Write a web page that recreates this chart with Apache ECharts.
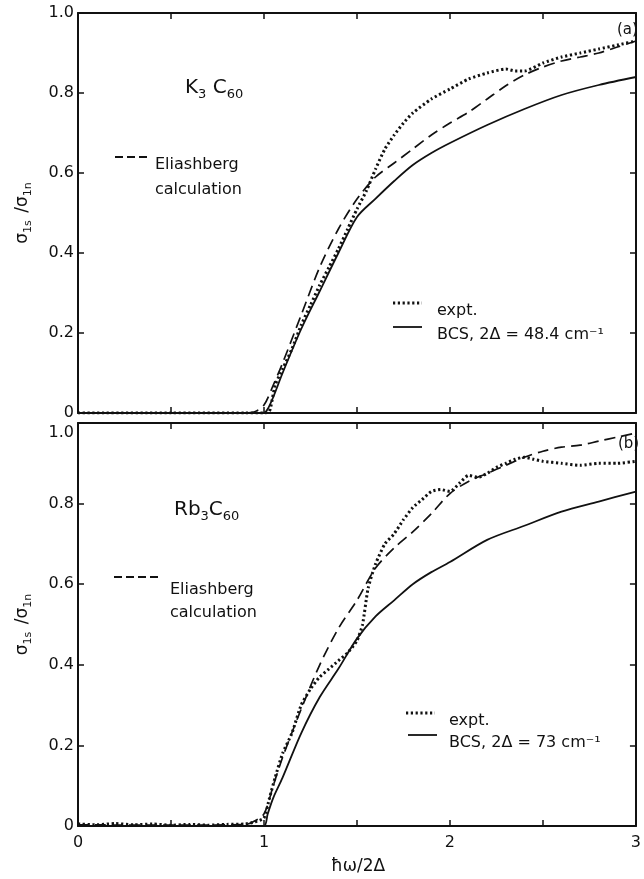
<!DOCTYPE html>
<html>
<head>
<meta charset="utf-8">
<script src="https://cdn.jsdelivr.net/npm/echarts@6/dist/echarts.min.js"></script>
<style>
html,body{margin:0;padding:0;background:#fff;}
#chart{width:644px;height:879px;}
</style>
</head>
<body>
<div id="chart"></div>
<script>
// ---- Panel (a): K3C60 ----
const xK_bcs = [0, 0.5, 0.9, 1.0, 1.02, 1.05, 1.1, 1.2, 1.3, 1.4, 1.5, 1.6, 1.7, 1.8, 1.9, 2.0, 2.2, 2.4, 2.6, 2.8, 3.0];
const yK_bcs = [0, 0, 0, 0, 0.01, 0.04, 0.10, 0.21, 0.305, 0.40, 0.49, 0.536, 0.58, 0.62, 0.65, 0.675, 0.72, 0.76, 0.795, 0.82, 0.84];

const xK_eli = [0, 0.5, 0.9, 0.95, 1.0, 1.05, 1.1, 1.2, 1.3, 1.4, 1.5, 1.6, 1.7, 1.8, 1.9, 2.0, 2.1, 2.2, 2.3, 2.4, 2.5, 2.6, 2.7, 2.8, 2.9, 3.0];
const yK_eli = [0, 0, 0, 0.003, 0.02, 0.07, 0.125, 0.245, 0.365, 0.46, 0.535, 0.59, 0.625, 0.66, 0.695, 0.725, 0.752, 0.785, 0.818, 0.845, 0.865, 0.88, 0.89, 0.90, 0.915, 0.93];

const xK_exp = [0, 0.5, 0.9, 1.0, 1.03, 1.06, 1.1, 1.15, 1.2, 1.25, 1.3, 1.35, 1.4, 1.45, 1.5, 1.55, 1.6, 1.65, 1.7, 1.75, 1.8, 1.9, 2.0, 2.1, 2.2, 2.3, 2.35, 2.4, 2.5, 2.6, 2.7, 2.8, 2.9, 3.0];
const yK_exp = [0, 0, 0, 0, 0.005, 0.07, 0.11, 0.16, 0.22, 0.27, 0.32, 0.365, 0.41, 0.46, 0.51, 0.555, 0.61, 0.66, 0.695, 0.725, 0.75, 0.785, 0.81, 0.835, 0.85, 0.86, 0.855, 0.855, 0.875, 0.89, 0.90, 0.91, 0.92, 0.93];

// ---- Panel (b): Rb3C60 ----
const xR_bcs = [0, 0.5, 0.9, 1.0, 1.02, 1.05, 1.1, 1.2, 1.3, 1.4, 1.5, 1.6, 1.7, 1.8, 1.9, 2.0, 2.2, 2.4, 2.6, 2.8, 3.0];
const yR_bcs = [0, 0, 0, 0, 0.03, 0.07, 0.12, 0.23, 0.32, 0.39, 0.465, 0.52, 0.56, 0.60, 0.63, 0.655, 0.71, 0.745, 0.78, 0.805, 0.83];

const xR_eli = [0, 0.5, 0.9, 0.94, 1.0, 1.05, 1.1, 1.2, 1.3, 1.4, 1.5, 1.6, 1.7, 1.8, 1.9, 2.0, 2.1, 2.2, 2.3, 2.4, 2.5, 2.6, 2.7, 2.8, 2.9, 3.0];
const yR_eli = [0.003, 0.002, 0.004, 0.01, 0.03, 0.10, 0.17, 0.29, 0.40, 0.49, 0.56, 0.64, 0.69, 0.73, 0.775, 0.825, 0.855, 0.875, 0.895, 0.915, 0.93, 0.94, 0.945, 0.955, 0.965, 0.975];

const xR_exp = [0, 0.1, 0.2, 0.3, 0.4, 0.5, 0.6, 0.7, 0.8, 0.9, 0.95, 1.0, 1.03, 1.06, 1.1, 1.15, 1.2, 1.25, 1.3, 1.35, 1.4, 1.45, 1.5, 1.53, 1.56, 1.6, 1.65, 1.7, 1.75, 1.8, 1.85, 1.9, 1.95, 2.0, 2.05, 2.1, 2.15, 2.2, 2.25, 2.3, 2.35, 2.4, 2.45, 2.5, 2.6, 2.7, 2.8, 2.9, 3.0];
const yR_exp = [0.005, 0.003, 0.006, 0.003, 0.005, 0.002, 0.004, 0.002, 0.004, 0.005, 0.01, 0.02, 0.07, 0.12, 0.18, 0.23, 0.30, 0.34, 0.37, 0.39, 0.41, 0.43, 0.46, 0.50, 0.59, 0.65, 0.70, 0.725, 0.76, 0.79, 0.81, 0.83, 0.835, 0.83, 0.85, 0.87, 0.865, 0.875, 0.89, 0.90, 0.91, 0.915, 0.91, 0.905, 0.90, 0.895, 0.90, 0.90, 0.905];

// ---- tick labels ----
const xTickLabels = {0: '0', 1: '1', 2: '2', 3: '3'};
const yTickLabels = {0: '0', 0.2: '0.2', 0.4: '0.4', 0.6: '0.6', 0.8: '0.8', 1: '1.0'};

const pairs = (xs, ys) => xs.map((x, i) => [x, ys[i]]);
const INK = '#111';
const FONT = 'DejaVu Sans';

function xAx(grid, pos, labels) {
  return {
    type: 'value', gridIndex: grid, position: pos, min: 0, max: 3, interval: 0.5,
    axisLine: {show: true, onZero: false, lineStyle: {color: INK, width: 2}},
    axisTick: {show: true, inside: true, length: 6, lineStyle: {color: INK, width: 1.5}},
    axisLabel: {show: labels, margin: 9, color: INK, fontSize: 16, fontFamily: FONT,
      formatter: v => (xTickLabels[v] !== undefined ? xTickLabels[v] : '')},
    splitLine: {show: false}
  };
}
function yAx(grid, pos, labels, hideMax, name) {
  return {
    type: 'value', gridIndex: grid, position: pos, min: 0, max: 1, interval: 0.2,
    name: name || '', nameLocation: 'middle', nameRotate: 90, nameGap: 44,
    nameTextStyle: {color: INK, fontFamily: FONT,
      rich: {a: {fontSize: 17, lineHeight: 22, fontFamily: FONT, color: INK},
             s: {fontSize: 11, lineHeight: 10, verticalAlign: 'bottom', fontFamily: FONT, color: INK}}},
    axisLine: {show: true, onZero: false, lineStyle: {color: INK, width: 2}},
    axisTick: {show: true, inside: true, length: 6, lineStyle: {color: INK, width: 1.5}},
    axisLabel: {show: labels, margin: 4, color: INK, fontSize: 16, fontFamily: FONT,
      formatter: v => {
        const k = Math.round(v * 10) / 10;
        if (hideMax && k === 1) return '';
        return yTickLabels[k] !== undefined ? yTickLabels[k] : '';
      }},
    splitLine: {show: false}
  };
}

const yName = '{a|σ}{s|1s}  {a|/σ}{s|1n}';

function ser(name, data, xi, yi, kind) {
  const ls = {color: INK};
  let sm = 0.3;
  if (kind === 'solid') { ls.width = 1.8; ls.type = 'solid'; }
  if (kind === 'dash') { ls.width = 1.7; ls.type = [11, 6]; }
  if (kind === 'dot') { ls.width = 3; ls.type = [2.2, 2.6]; sm = 0.2; }
  return {
    name: name, type: 'line', xAxisIndex: xi, yAxisIndex: yi, data: data,
    showSymbol: false, symbol: 'none', smooth: sm,
    lineStyle: ls, animation: false, silent: true
  };
}

const subRich = {
  m: {fontSize: 20, lineHeight: 26, fontFamily: FONT, color: INK},
  s: {fontSize: 13, lineHeight: 13, verticalAlign: 'bottom', fontFamily: FONT, color: INK}
};
function txt(x, y, text, size, align) {
  return {type: 'text', left: x, top: y, style: {text: text, fill: INK, font: size + 'px "' + FONT + '"', textAlign: align || 'left', textVerticalAlign: 'middle'}, silent: true};
}
function richTxt(x, y, text) {
  return {type: 'text', x: x, y: y, style: {text: text, rich: subRich, fill: INK, textVerticalAlign: 'middle', textAlign: 'left'}, silent: true};
}
function seg(x1, x2, y, kind) {
  const st = {stroke: INK, lineWidth: 1.8};
  if (kind === 'dash') st.lineDash = [8, 4];
  if (kind === 'dot') { st.lineWidth = 3; st.lineDash = [2.2, 2.6]; }
  return {type: 'line', shape: {x1: x1, y1: y, x2: x2, y2: y}, style: st, silent: true};
}

const option = {
  backgroundColor: '#fff',
  animation: false,
  grid: [
    {left: 78, top: 13, width: 558, height: 400, containLabel: false},
    {left: 78, top: 423, width: 558, height: 403, containLabel: false}
  ],
  xAxis: [xAx(0, 'bottom', false), xAx(0, 'top', false), xAx(1, 'bottom', true), xAx(1, 'top', false)],
  yAxis: [yAx(0, 'left', true, false, yName), yAx(0, 'right', false), yAx(1, 'left', true, true, yName), yAx(1, 'right', false)],
  series: [
    ser('BCS, 2Δ = 48.4 cm⁻¹', pairs(xK_bcs, yK_bcs), 0, 0, 'solid'),
    ser('Eliashberg calculation (K3C60)', pairs(xK_eli, yK_eli), 0, 0, 'dash'),
    ser('expt. (K3C60)', pairs(xK_exp, yK_exp), 0, 0, 'dot'),
    ser('BCS, 2Δ = 73 cm⁻¹', pairs(xR_bcs, yR_bcs), 2, 2, 'solid'),
    ser('Eliashberg calculation (Rb3C60)', pairs(xR_eli, yR_eli), 2, 2, 'dash'),
    ser('expt. (Rb3C60)', pairs(xR_exp, yR_exp), 2, 2, 'dot')
  ],
  graphic: [
    // panel (a)
    richTxt(185, 88, '{m|K}{s|3}{m| C}{s|60}'),
    seg(115, 147, 157, 'dash'),
    txt(155, 157, 'Eliashberg', 16),
    txt(155, 182, 'calculation', 16),
    seg(393, 422, 303, 'dot'),
    txt(437, 303, 'expt.', 16),
    seg(393, 422, 327, 'solid'),
    txt(437, 327, 'BCS, 2Δ = 48.4 cm⁻¹', 16),
    txt(617, 23, '(a)', 15),
    // panel (b)
    richTxt(174, 510, '{m|Rb}{s|3}{m|C}{s|60}'),
    seg(114, 161, 577, 'dash'),
    txt(170, 582, 'Eliashberg', 16),
    txt(170, 605, 'calculation', 16),
    seg(406, 435, 713, 'dot'),
    txt(449, 713, 'expt.', 16),
    seg(408, 437, 735, 'solid'),
    txt(449, 735, 'BCS, 2Δ = 73 cm⁻¹', 16),
    txt(618, 437, '(b)', 15),
    // bottom panel 1.0 label (sits below its tick in the original)
    {type: 'text', x: 74, y: 433, style: {text: '1.0', fill: INK, font: '16px "' + FONT + '"', textAlign: 'right', textVerticalAlign: 'middle'}, silent: true},
    // x-axis title
    {type: 'text', x: 358, y: 867, style: {text: 'ħω/2Δ', fill: INK, font: '17px "' + FONT + '"', textAlign: 'center', textVerticalAlign: 'middle'}, silent: true}
  ]
};

const chart = echarts.init(document.getElementById('chart'), null, {renderer: 'canvas'});
chart.setOption(option);
</script>
</body>
</html>
